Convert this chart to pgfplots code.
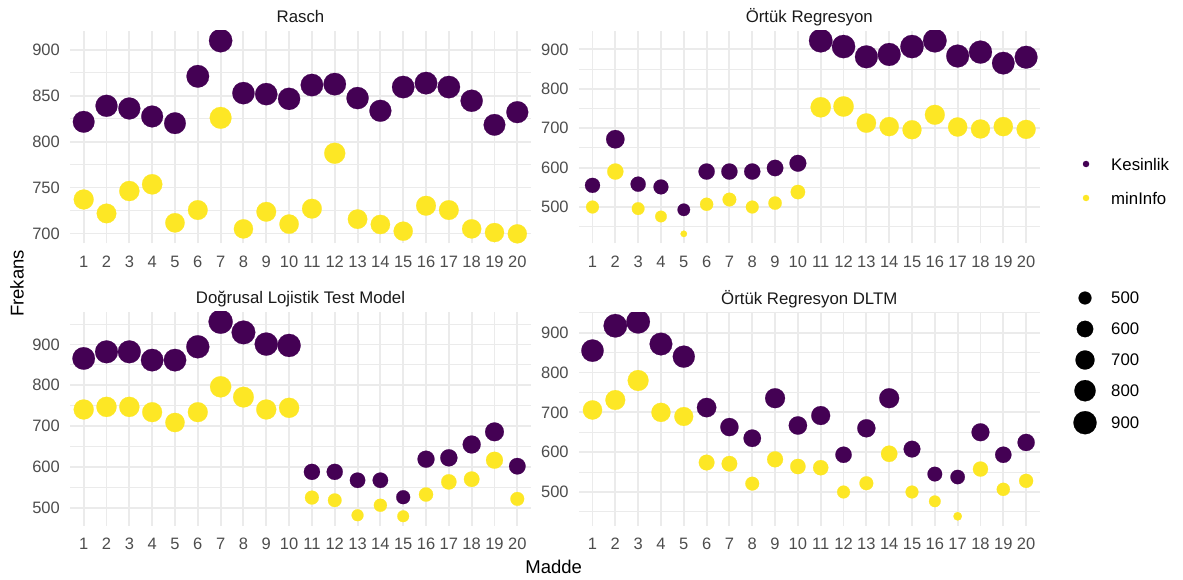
\documentclass[border=0pt]{standalone}
\usepackage{pgfplots}
\pgfplotsset{compat=1.18}
\usepackage{pgfplotstable}
\usepackage{fontspec}
\setmainfont{Liberation Sans}
\definecolor{kes}{HTML}{440154}
\definecolor{mininfo}{HTML}{FDE725}
\definecolor{gridc}{HTML}{EBEBEB}
\definecolor{tickc}{HTML}{4D4D4D}
\definecolor{stripc}{HTML}{1A1A1A}

\pgfplotstableread{
x rk rm ok om dk dm tk tm
1 821.5 737 555 500 865.8 740.6 855 706
2 838.9 721.8 672 590 882 747 917.5 731
3 836 746.2 558 496 882 747 927.6 780
4 827.3 753.5 551 476 861.7 734 871.6 700
5 820 711.6 493 432 861.7 708.7 839.9 689.6
6 871 725.5 590 507 894.4 734 712 574
7 909.8 825.8 590 519 955.8 796.2 663 571
8 852.7 705 590 500 929.6 770.9 635 521
9 851.6 723.6 599 510 901 740.6 735.5 582
10 846.5 710.2 611 538 897.7 744.7 667 564
11 861.5 727 922 753 587.6 524.5 692 561
12 862.5 787.3 907 755 587.6 518 593.5 500
13 847.3 715.6 881 713 567 481.2 660 522
14 833.5 709.8 887 704 567 505.7 735.5 596
15 859.3 702.5 907 696 525.4 478.7 607.7 500
16 863.6 730.2 922 734 618.7 532 545 476.6
17 859.3 725.5 883 703 622 563 537.6 439
18 844.4 705 893 698 654.7 569.6 650 557.6
19 818.2 701 865 704 685.8 616.2 593.5 506.7
20 832 699.6 880 697 601.5 521.3 624.4 528
}\data

\pgfplotsset{
  panel/.style={
    anchor=south west, scale only axis, width=461pt,
    xmin=0.4, xmax=20.6, xtick={1,...,20},
    axis line style={draw=none},
    major tick length=0pt, minor tick length=0pt,
    grid=both,
    major grid style={gridc, line width=1.9pt},
    minor grid style={gridc, line width=1pt},
    /pgf/number format/assume math mode=true,
    tick label style={font=\fontsize{16.5}{19}\selectfont, color=tickc},
    xticklabel style={inner sep=0pt}, xticklabel shift=12pt,
    yticklabel style={inner sep=0pt}, yticklabel shift=10pt,
    every axis title/.style={at={(0.5,1)}, anchor=base, yshift=8pt, inner sep=0pt,
      font=\fontsize{16.8}{19}\selectfont, color=stripc},
    clip marker paths=true,
  },
  dots/.style 2 args={only marks, scatter, mark=*, point meta=y,
    scatter/use mapped color={draw=#2, fill=#2, line width=0.2pt},
    visualization depends on={\thisrow{#1} \as \vv},
    scatter/@pre marker code/.append style={/tikz/mark size={3.21+8.82*sqrt(max(\vv-432,0)/524)}},
  },
}

\begin{document}
\begin{tikzpicture}
\path[use as bounding box] (0,0) rectangle (1183pt,579pt);

\begin{axis}[panel, at={(70pt,335.5pt)}, height=212.5pt,
  ymin=689.1, ymax=920.3, ytick={700,750,...,900}, minor ytick={725,775,825,875},
  title={Rasch}]
\addplot[dots={rk}{kes}] table[x=x,y=rk]{\data};
\addplot[dots={rm}{mininfo}] table[x=x,y=rm]{\data};
\end{axis}

\begin{axis}[panel, at={(578.8pt,335.5pt)}, height=212.5pt,
  ymin=407.5, ymax=946.5, ytick={500,600,...,900}, minor ytick={450,550,650,750,850},
  title={Örtük Regresyon}]
\addplot[dots={ok}{kes}] table[x=x,y=ok]{\data};
\addplot[dots={om}{mininfo}] table[x=x,y=om]{\data};
\end{axis}

\begin{axis}[panel, at={(70pt,53pt)}, height=214pt,
  ymin=454.8, ymax=979.7, ytick={500,600,...,900}, minor ytick={550,650,750,850,950},
  title={Doğrusal Lojistik Test Model}]
\addplot[dots={dk}{kes}] table[x=x,y=dk]{\data};
\addplot[dots={dm}{mininfo}] table[x=x,y=dm]{\data};
\end{axis}

\begin{axis}[panel, at={(578.8pt,53pt)}, height=214pt,
  ymin=414.6, ymax=952, ytick={500,600,...,900}, minor ytick={450,550,650,750,850,950},
  title={Örtük Regresyon DLTM}]
\addplot[dots={tk}{kes}] table[x=x,y=tk]{\data};
\addplot[dots={tm}{mininfo}] table[x=x,y=tm]{\data};
\end{axis}

% legend keys
\begin{axis}[at={(0pt,0pt)}, anchor=south west, scale only axis, width=1183pt, height=579pt,
  xmin=0, xmax=1183, ymin=0, ymax=579, hide axis, clip=false]
\addplot[only marks, mark=*, color=kes, mark size=3.1, line width=0.2pt] coordinates {(1086,415)};
\addplot[only marks, mark=*, color=mininfo, mark size=3.1, line width=0.2pt] coordinates {(1086,381)};
\addplot[only marks, mark=*, color=black, mark size=6.39, line width=0.2pt] coordinates {(1085,281)};
\addplot[only marks, mark=*, color=black, mark size=8.20, line width=0.2pt] coordinates {(1085,250)};
\addplot[only marks, mark=*, color=black, mark size=9.52, line width=0.2pt] coordinates {(1085,219)};
\addplot[only marks, mark=*, color=black, mark size=10.60, line width=0.2pt] coordinates {(1085,188.3)};
\addplot[only marks, mark=*, color=black, mark size=11.55, line width=0.2pt] coordinates {(1085,156.3)};
\end{axis}

\begin{scope}[every node/.style={anchor=west, inner sep=0pt, font=\fontsize{16.8}{19}\selectfont}]
\node at (1111pt,415pt) {Kesinlik};
\node at (1111pt,381pt) {minInfo};
\node at (1111pt,281pt) {500};
\node at (1111pt,250pt) {600};
\node at (1111pt,219pt) {700};
\node at (1111pt,188.3pt) {800};
\node at (1111pt,156.3pt) {900};
\end{scope}

\node[inner sep=0pt, font=\fontsize{18.5}{21}\selectfont] at (553.7pt,12.3pt) {Madde};
\node[inner sep=0pt, rotate=90, font=\fontsize{18.5}{21}\selectfont] at (17pt,295.5pt) {Frekans};
\end{tikzpicture}
\end{document}
